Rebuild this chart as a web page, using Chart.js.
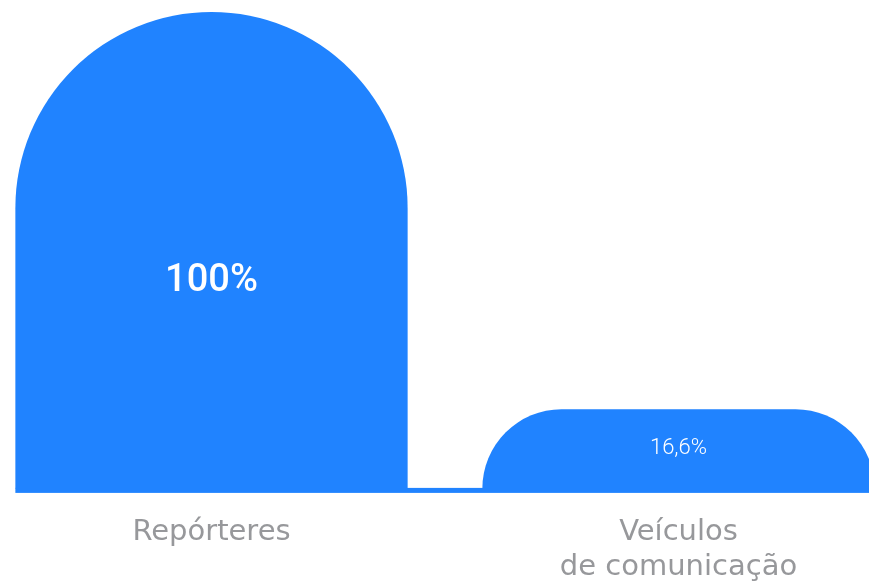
<!DOCTYPE html>
<html>
<head>
<meta charset="utf-8">
<script src="https://cdn.jsdelivr.net/npm/chart.js@4"></script>
<style>
  html, body { margin: 0; padding: 0; background: #fff; overflow: hidden; }
  body { width: 869px; height: 585px; position: relative; }
  #wrap { position: absolute; left: -22px; top: 0; width: 934px; height: 612px; }
</style>
</head>
<body>
<div id="wrap"><canvas id="barChart"></canvas></div>
<script>
// dados do gráfico
const categories = [['Repórteres'], ['Veículos', 'de comunicação']];
const values = [100, 16.6];
const valueLabels = ['100%', '16,6%'];

const BLUE = '#2083ff';

// barras com topo arredondado + linha de base + rótulos internos
const roundTopBars = {
  id: 'roundTopBars',
  beforeDatasetsDraw(chart) {
    const ctx = chart.ctx;
    const bars = chart.getDatasetMeta(0).data;
    ctx.save();
    ctx.fillStyle = BLUE;

    // linha de base, da primeira barra até a última
    const first = bars[0], last = bars[bars.length - 1];
    const x0 = first.x - first.width / 2;
    const x1 = last.x + last.width / 2;
    ctx.fillRect(x0, first.base - 0.5, x1 - x0, 5);

    bars.forEach(bar => {
      const left = bar.x - bar.width / 2;
      const h = bar.base - bar.y;
      const r = Math.min(bar.width / 2, h);
      ctx.beginPath();
      ctx.roundRect(left, bar.y, bar.width, h, [r, r, 0, 0]);
      ctx.fill();
    });
    ctx.restore();
  },
  afterDatasetsDraw(chart) {
    const ctx = chart.ctx;
    const bars = chart.getDatasetMeta(0).data;
    ctx.save();
    ctx.fillStyle = '#ffffff';
    ctx.textAlign = 'center';
    ctx.textBaseline = 'middle';
    bars.forEach((bar, i) => {
      const h = bar.base - bar.y;
      if (h > 200) {
        ctx.font = "500 38px Roboto, 'Open Sans', sans-serif";
        ctx.fillText(valueLabels[i], bar.x, bar.y + h * 0.566);
      } else {
        ctx.font = "300 22px Roboto, 'Open Sans', sans-serif";
        ctx.fillText(valueLabels[i], bar.x, bar.y + h / 2);
      }
    });
    ctx.restore();
  }
};

new Chart(document.getElementById('barChart'), {
  type: 'bar',
  data: {
    labels: categories,
    datasets: [{
      data: values,
      backgroundColor: 'rgba(0,0,0,0)',
      borderWidth: 0,
      categoryPercentage: 1,
      barPercentage: 0.84
    }]
  },
  options: {
    responsive: true,
    maintainAspectRatio: false,
    animation: false,
    events: [],
    layout: { padding: { top: 12, bottom: 0, left: 0, right: 0 } },
    plugins: {
      legend: { display: false },
      tooltip: { enabled: false }
    },
    scales: {
      x: {
        grid: { display: false, drawTicks: false },
        border: { display: false },
        ticks: {
          color: '#97989b',
          padding: 27,
          font: { family: "'DejaVu Sans', sans-serif", size: 29, lineHeight: 1.2 }
        }
      },
      y: {
        display: false,
        min: 0,
        max: 100
      }
    }
  },
  plugins: [roundTopBars]
});
</script>
</body>
</html>
